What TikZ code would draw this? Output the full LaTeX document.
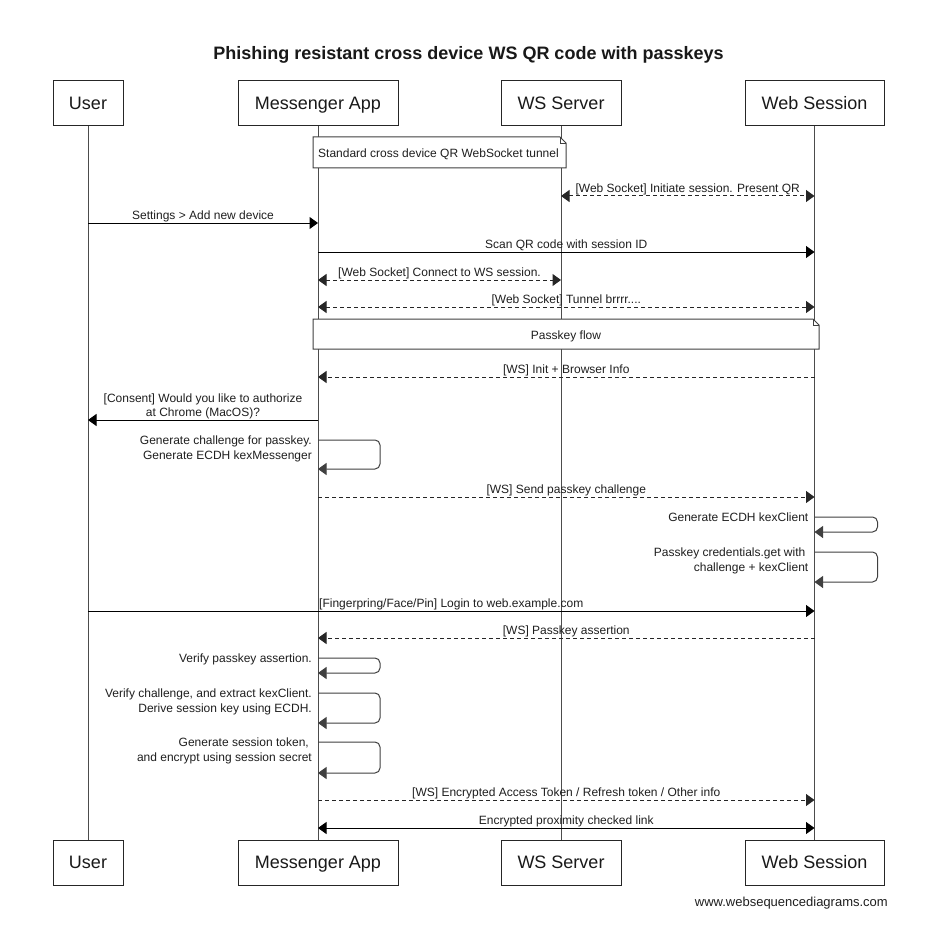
\documentclass[tikz,border=0pt]{standalone}
\usepackage{fontspec}
\setmainfont{Liberation Sans}
\usetikzlibrary{arrows.meta}
\begin{document}
\begin{tikzpicture}[x=1pt,y=-1pt,
  txt/.style={font=\fontsize{12}{14}\selectfont, text=black!88, inner sep=0pt},
  lbl/.style={txt, anchor=base, yshift=3.5pt},
  slbl/.style={txt, anchor=base east, xshift=-6pt},
  pbox/.style={draw=black!85, line width=1pt, fill=white, font=\fontsize{18}{20}\selectfont,
    text=black!90, text height=12.9pt, text depth=0pt, inner sep=0pt, minimum height=45pt},
  life/.style={draw=black!70, line width=1pt},
  tip/.tip={Triangle[length=8.5pt,width=12pt]},
  smsg/.style={draw=black, line width=1pt, -tip},
  dmsg/.style={draw=black!85, line width=1pt, dash pattern=on 4pt off 3pt, -tip},
  bmsg/.style={tip-tip},
  selfl/.style={draw=black!75, line width=1pt, rounded corners=5pt, -tip},
  notebox/.style={draw=black!75, line width=1pt, fill=white}
]
\useasboundingbox (0,0) rectangle (950,936);
\fill[white] (0,0) rectangle (950,936);

% title
\node[font=\bfseries\fontsize{18}{20}\selectfont, text=black!90, anchor=base, inner sep=0pt] (title) at (468.5,59.3)
  {Phishing resistant cross device WS QR code with passkeys};

% participants
\node[pbox, minimum width=70pt]  (uT) at (88,103.5)  {User};
\node[pbox, minimum width=160pt] (mT) at (318,103.5) {Messenger App};
\node[pbox, minimum width=120pt] (sT) at (561,103.5) {WS Server};
\node[pbox, minimum width=139pt] (wT) at (814.5,103.5) {Web Session};
\node[pbox, minimum width=70pt]  (uB) at (88,862.5)  {User};
\node[pbox, minimum width=160pt] (mB) at (318,862.5) {Messenger App};
\node[pbox, minimum width=120pt] (sB) at (561,862.5) {WS Server};
\node[pbox, minimum width=139pt] (wB) at (814.5,862.5) {Web Session};

% lifelines
\draw[life] (uT.south) -- (uB.north);
\draw[life] (mT.south) -- (mB.north);
\draw[life] (sT.south) -- (sB.north);
\draw[life] (wT.south) -- (wB.north);

% note 1
\draw[notebox] (313,137) -- (560,137) -- (566,143) -- (566,168) -- (313,168) -- cycle;
\draw[draw=black!75, line width=0.8pt] (560,137) -- (560,143) -- (566,143);
\node[txt, anchor=base west] (n1) at (318,157.7) {Standard cross device QR WebSocket tunnel};

% messages
\draw[dmsg, bmsg] (sT.south |- 0,196) -- (wT.south |- 0,196)
  node[midway, lbl] (l1) {[Web Socket] Initiate session. Present QR};
\draw[smsg] (uT.south |- 0,223) -- (mT.south |- 0,223)
  node[midway, lbl] (l2) {Settings > Add new device};
\draw[smsg] (mT.south |- 0,252) -- (wT.south |- 0,252)
  node[midway, lbl] (l3) {Scan QR code with session ID};
\draw[dmsg, bmsg] (mT.south |- 0,280) -- (sT.south |- 0,280)
  node[midway, lbl] (l4) {[Web Socket] Connect to WS session.};
\draw[dmsg, bmsg] (mT.south |- 0,307) -- (wT.south |- 0,307)
  node[midway, lbl] (l5) {[Web Socket] Tunnel brrrr....};

% note 2
\draw[notebox] (313,319) -- (813,319) -- (819,325) -- (819,349) -- (313,349) -- cycle;
\draw[draw=black!75, line width=0.8pt] (813,319) -- (813,325) -- (819,325);
\node[txt, anchor=base] (n2) at (566,339) {Passkey flow};

\draw[dmsg] (wT.south |- 0,377) -- (mT.south |- 0,377)
  node[midway, lbl] (l6) {[WS] Init + Browser Info};
\draw[smsg] (mT.south |- 0,420) -- (uT.south |- 0,420);
\node[txt, anchor=base] (l7a) at (203,402) {[Consent] Would you like to authorize};
\node[txt, anchor=base] (l7b) at (203,416.7) {at Chrome (MacOS)?};

% self: messenger
\draw[selfl] (mT.south |- 0,440) -- ++(62,0) -- ++(0,29) -- (mT.south |- 0,469);
\node[slbl] (s1a) at (mT.south |- 0,444.7) {Generate challenge for passkey.};
\node[slbl] (s1b) at (mT.south |- 0,459.4) {Generate ECDH kexMessenger};

\draw[dmsg] (mT.south |- 0,497) -- (wT.south |- 0,497)
  node[midway, lbl] (l8) {[WS] Send passkey challenge};

% self: web session
\draw[selfl] (wT.south |- 0,517) -- ++(63,0) -- ++(0,15) -- (wT.south |- 0,532);
\node[slbl] (s2a) at (wT.south |- 0,521.7) {Generate ECDH kexClient};
\draw[selfl] (wT.south |- 0,552) -- ++(63,0) -- ++(0,30) -- (wT.south |- 0,582);
\node[slbl] (s3a) at (wT.south |- 0,556.7) {Passkey credentials.get with\kern3pt};
\node[slbl] (s3b) at (wT.south |- 0,571.4) {challenge + kexClient};

\draw[smsg] (uT.south |- 0,611) -- (wT.south |- 0,611)
  node[midway, lbl] (l9) {[Fingerpring/Face/Pin] Login to web.example.com};
\draw[dmsg] (wT.south |- 0,638) -- (mT.south |- 0,638)
  node[midway, lbl] (l10) {[WS] Passkey assertion};

% self: messenger verifications
\draw[selfl] (mT.south |- 0,658) -- ++(62,0) -- ++(0,15) -- (mT.south |- 0,673);
\node[slbl] (s4a) at (mT.south |- 0,662.7) {Verify passkey assertion.};
\draw[selfl] (mT.south |- 0,693) -- ++(62,0) -- ++(0,30) -- (mT.south |- 0,723);
\node[slbl] (s5a) at (mT.south |- 0,697.7) {Verify challenge, and extract kexClient.};
\node[slbl] (s5b) at (mT.south |- 0,712.4) {Derive session key using ECDH.};
\draw[selfl] (mT.south |- 0,742) -- ++(62,0) -- ++(0,31) -- (mT.south |- 0,773);
\node[slbl] (s6a) at (mT.south |- 0,746.7) {Generate session token,\kern3pt};
\node[slbl] (s6b) at (mT.south |- 0,761.4) {and encrypt using session secret};

\draw[dmsg] (mT.south |- 0,800) -- (wT.south |- 0,800)
  node[midway, lbl] (l11) {[WS] Encrypted Access Token / Refresh token / Other info};
\draw[smsg, bmsg] (mT.south |- 0,828) -- (wT.south |- 0,828)
  node[midway, lbl] (l12) {Encrypted proximity checked link};

% footer
\node[font=\fontsize{13}{15}\selectfont, text=black!88, anchor=base east, inner sep=0pt] (foot) at (888,906.5)
  {www.websequencediagrams.com};
\end{tikzpicture}
\end{document}
